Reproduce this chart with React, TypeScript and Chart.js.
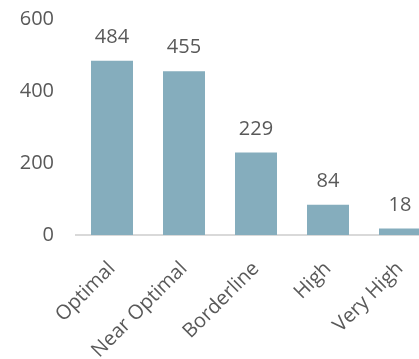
import React, { useEffect, useRef } from "react";
import { Chart, registerables } from "chart.js";

Chart.register(...registerables);

const categories = ["Optimal", "Near Optimal", "Borderline", "High", "Very High"];
const values = [484, 455, 229, 84, 18];
const yTicks = [0, 200, 400, 600];

const FONT = "'Open Sans', sans-serif";
const TEXT = "#595959";

const valueLabels = {
  id: "valueLabels",
  afterDatasetsDraw(chart: any) {
    const ctx = chart.ctx;
    const meta = chart.getDatasetMeta(0);
    ctx.save();
    ctx.font = `20px ${FONT}`;
    ctx.fillStyle = TEXT;
    ctx.textAlign = "center";
    ctx.textBaseline = "alphabetic";
    meta.data.forEach((bar: any, i: number) => {
      ctx.fillText(String(values[i]), bar.x, bar.y - 18);
    });
    ctx.restore();
  },
};

export default function App() {
  const ref = useRef<HTMLCanvasElement | null>(null);
  useEffect(() => {
    if (!ref.current) return;
    const chart = new Chart(ref.current, {
      type: "bar",
      data: {
        labels: categories,
        datasets: [
          {
            data: values,
            backgroundColor: "#85ADBD",
            borderWidth: 0,
            barPercentage: 42 / 72,
            categoryPercentage: 1,
          },
        ],
      },
      options: {
        animation: false,
        responsive: false,
        maintainAspectRatio: false,
        layout: { padding: { top: 19, right: 4, left: 0, bottom: 0 } },
        plugins: { legend: { display: false }, tooltip: { enabled: false } },
        scales: {
          x: {
            grid: { display: false },
            border: { display: true, color: "#D9D9D9", width: 2 },
            ticks: {
              autoSkip: false,
              minRotation: 45,
              maxRotation: 45,
              color: TEXT,
              font: { family: FONT, size: 20 },
              padding: 14,
            },
            afterFit: (s: any) => {
              s.height = 124;
              s.paddingLeft = 0;
              s.paddingRight = 0;
            },
          },
          y: {
            min: 0,
            max: 600,
            afterBuildTicks: (s: any) => {
              s.ticks = yTicks.map((v) => ({ value: v }));
            },
            grid: { display: false },
            border: { display: false },
            ticks: {
              color: TEXT,
              font: { family: FONT, size: 20 },
              padding: 14,
            },
            afterFit: (s: any) => {
              s.width = 76;
              s.paddingTop = 0;
              s.paddingBottom = 0;
            },
          },
        },
      },
      plugins: [valueLabels],
    });
    return () => chart.destroy();
  }, []);
  return (
    <div
      style={{
        position: "absolute",
        left: 0,
        top: 0,
        width: 419,
        height: 359,
        overflow: "hidden",
      }}
    >
      <canvas ref={ref} width={440} height={359} style={{ display: "block" }} />
    </div>
  );
}
